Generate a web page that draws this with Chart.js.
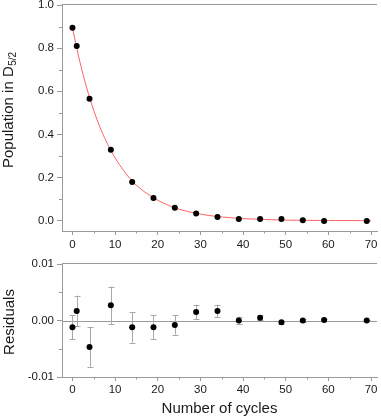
<!DOCTYPE html>
<html><head><meta charset="utf-8">
<script src="https://cdn.jsdelivr.net/npm/chart.js@4"></script>
<style>
html,body{margin:0;padding:0;background:#fff;overflow:hidden;}
canvas{position:absolute;left:0;display:block;}
</style>
</head><body>
<canvas id="c1" width="381" height="252" style="top:0px"></canvas>
<canvas id="c2" width="381" height="167" style="top:252px"></canvas>
<script>
// ---- data ----
const cycles = [0, 1, 4, 9, 14, 19, 24, 29, 34, 39, 44, 49, 54, 59, 69];
const population = [0.895, 0.810, 0.565, 0.329, 0.180, 0.105, 0.060, 0.034, 0.017, 0.008, 0.008, 0.008, 0.002, -0.001, -0.001];
const residuals = [-0.0012, 0.0017, -0.0047, 0.0027, -0.0012, -0.0012, -0.0008, 0.0015, 0.0017, 0.0000, 0.0005, -0.0003, 0.0000, 0.0001, 0.0000];
const residualErrors = [0.0021, 0.0027, 0.0035, 0.0033, 0.0027, 0.0021, 0.0017, 0.0013, 0.0011, 0.0007, 0.0004, 0.0003, 0.0002, 0.0002, 0.0001];
// fitted curve
const fitCycles = [0, 1, 2, 3, 4, 5, 6, 7, 8, 9, 10, 12, 14, 16, 18, 20, 22, 24, 27, 30, 33, 36, 40, 45, 50, 55, 60, 65, 70];
const fitValues = [0.896, 0.801, 0.716, 0.640, 0.572, 0.511, 0.457, 0.408, 0.365, 0.326, 0.291, 0.233, 0.184, 0.148, 0.119, 0.095, 0.076, 0.060, 0.043, 0.031, 0.022, 0.016, 0.010, 0.006, 0.003, 0.002, 0.001, 0.001, 0.000];
// tick labels
const xTicks = [0, 10, 20, 30, 40, 50, 60, 70];
const xMinorTicks = [5, 15, 25, 35, 45, 55, 65];
const popTicks = [0, 0.2, 0.4, 0.6, 0.8, 1.0];
const popMinorTicks = [0.1, 0.3, 0.5, 0.7, 0.9];
const resTicks = [-0.01, 0, 0.01];
const resMinorTicks = [-0.005, 0.005];

const AXIS = '#9a9a9a', TXT = '#1a1a1a';
const FAM = "'Liberation Sans', Arial, sans-serif";
const tickFont = {family: FAM, size: 11.5};

function xScale(h, pad) {
  return {
    type: 'linear', min: -2.45, max: 71.4,
    afterBuildTicks: a => { a.ticks = xTicks.map(v => ({value: v})); },
    afterFit: s => { s.height = h; s.paddingLeft = 0; s.paddingRight = 0; },
    grid: {display: true, drawOnChartArea: false, drawTicks: true, tickLength: 4, tickColor: AXIS, tickWidth: 1},
    border: {display: true, color: AXIS, width: 1},
    ticks: {font: tickFont, color: TXT, padding: pad, maxRotation: 0, autoSkip: false, callback: v => String(v)}
  };
}
function yScale(min, max, ticks, dec) {
  return {
    type: 'linear', min, max,
    afterBuildTicks: a => { a.ticks = ticks.map(v => ({value: v})); },
    afterFit: s => { s.width = 62; s.paddingTop = 0; s.paddingBottom = 0; },
    grid: {display: true, drawOnChartArea: false, drawTicks: true, tickLength: 5, tickColor: AXIS, tickWidth: 1},
    border: {display: true, color: AXIS, width: 1},
    ticks: {font: tickFont, color: TXT, padding: 3, autoSkip: false, callback: v => Number(v).toFixed(dec)}
  };
}

function decoPlugin(cfg) {
  return {
    id: 'deco',
    beforeDatasetsDraw(chart) {
      const {ctx, chartArea: ca, scales: {x, y}} = chart;
      ctx.save();
      ctx.strokeStyle = AXIS; ctx.lineWidth = 1;
      // top frame line
      const ty = Math.round(ca.top) - 0.5;
      ctx.beginPath(); ctx.moveTo(ca.left, ty); ctx.lineTo(ca.right, ty); ctx.stroke();
      // zero line
      if (cfg.zero) {
        const zy = Math.round(y.getPixelForValue(0)) + 0.5;
        ctx.beginPath(); ctx.moveTo(ca.left, zy); ctx.lineTo(ca.right, zy); ctx.stroke();
      }
      // minor ticks
      xMinorTicks.forEach(v => {
        const px = Math.round(x.getPixelForValue(v)) + 0.5;
        ctx.beginPath(); ctx.moveTo(px, ca.bottom); ctx.lineTo(px, ca.bottom + 2.5); ctx.stroke();
      });
      cfg.yMinor.forEach(v => {
        const py = Math.round(y.getPixelForValue(v)) + 0.5;
        ctx.beginPath(); ctx.moveTo(ca.left - 3, py); ctx.lineTo(ca.left, py); ctx.stroke();
      });
      // error bars
      if (cfg.errors) {
        ctx.strokeStyle = '#a8a8a8';
        cycles.forEach((c, i) => {
          const px = Math.round(x.getPixelForValue(c)) + 0.5;
          const y1 = y.getPixelForValue(residuals[i] + residualErrors[i]);
          const y2 = y.getPixelForValue(residuals[i] - residualErrors[i]);
          ctx.beginPath();
          ctx.moveTo(px, y1); ctx.lineTo(px, y2);
          ctx.moveTo(px - 3, Math.round(y1) + 0.5); ctx.lineTo(px + 3, Math.round(y1) + 0.5);
          ctx.moveTo(px - 3, Math.round(y2) + 0.5); ctx.lineTo(px + 3, Math.round(y2) + 0.5);
          ctx.stroke();
        });
      }
      ctx.restore();
    },
    afterDraw(chart) {
      const ctx = chart.ctx;
      ctx.save();
      ctx.fillStyle = TXT;
      ctx.textBaseline = 'alphabetic';
      ctx.translate(cfg.titleX, cfg.titleY);
      ctx.rotate(-Math.PI / 2);
      ctx.font = '15px ' + FAM;
      ctx.textAlign = cfg.sub ? 'left' : 'center';
      ctx.fillText(cfg.title, 0, 0);
      if (cfg.sub) {
        const w = ctx.measureText(cfg.title).width;
        ctx.font = '10px ' + FAM;
        ctx.fillText(cfg.sub, w + 0.5, 3.5);
      }
      ctx.restore();
    }
  };
}

Chart.defaults.animation = false;

new Chart(document.getElementById('c1'), {
  type: 'scatter',
  data: {
    datasets: [
      {type: 'line', data: fitCycles.map((c, i) => ({x: c, y: fitValues[i]})), borderColor: '#ff5f5f', borderWidth: 1, pointRadius: 0, tension: 0.4, fill: false, order: 2},
      {data: cycles.map((c, i) => ({x: c, y: population[i]})), backgroundColor: '#000', borderColor: '#000', pointRadius: 3, borderWidth: 0, order: 1}
    ]
  },
  options: {
    responsive: false, animation: false, devicePixelRatio: 1,
    layout: {padding: {top: 5, left: 0, right: 0, bottom: 0}},
    plugins: {legend: {display: false}, tooltip: {enabled: false}},
    scales: {x: xScale(21, 3), y: yScale(-0.0475, 1.0, popTicks, 1)}
  },
  plugins: [decoPlugin({yMinor: popMinorTicks, zero: false, errors: false, title: 'Population in D', sub: '5/2', titleX: 12.5, titleY: 168})]
});

new Chart(document.getElementById('c2'), {
  type: 'scatter',
  data: {
    datasets: [
      {data: cycles.map((c, i) => ({x: c, y: residuals[i]})), backgroundColor: '#000', borderColor: '#000', pointRadius: 3, borderWidth: 0}
    ]
  },
  options: {
    responsive: false, animation: false, devicePixelRatio: 1,
    layout: {padding: {top: 12, left: 0, right: 0, bottom: 0}},
    plugins: {legend: {display: false}, tooltip: {enabled: false}},
    scales: {
      x: Object.assign(xScale(42, 2), {title: {display: true, text: 'Number of cycles', color: TXT, font: {family: FAM, size: 15}, padding: {top: 0, bottom: 1}}}),
      y: yScale(-0.01, 0.01, resTicks, 2)
    }
  },
  plugins: [decoPlugin({yMinor: resMinorTicks, zero: true, errors: true, title: 'Residuals', sub: null, titleX: 14, titleY: 70})]
});
</script>
</body></html>
